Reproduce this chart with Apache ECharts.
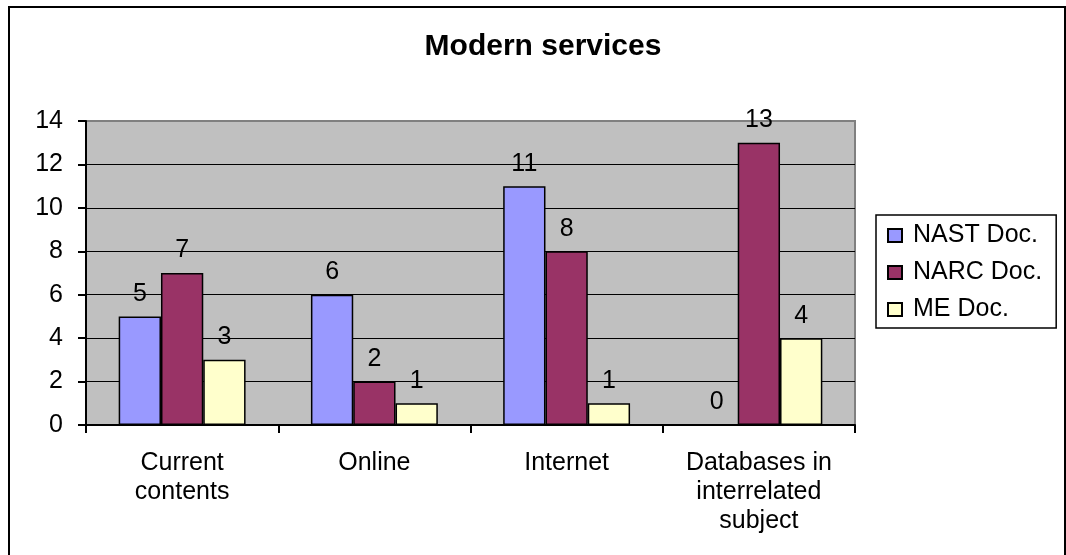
<!DOCTYPE html>
<html>
<head>
<meta charset="utf-8">
<script src="https://cdn.jsdelivr.net/npm/echarts@6/dist/echarts.min.js"></script>
<style>
  html, body { margin: 0; padding: 0; background: #fff; }
  #chart { width: 1066px; height: 555px; }
</style>
</head>
<body>
<div id="chart"></div>
<script>
// data
var categories = ["Current\ncontents", "Online", "Internet", "Databases in\ninterrelated\nsubject"];
var seriesNames = ["NAST Doc.", "NARC Doc.", "ME Doc."];
var nastValues = [5, 6, 11, 0];
var narcValues = [7, 2, 8, 13];
var meValues = [3, 1, 1, 4];
var yTicks = [0, 2, 4, 6, 8, 10, 12, 14];

var barColors = ["#9999FF", "#993366", "#FFFFCC"];
var font = "'Liberation Sans', Arial, sans-serif";

function barSeries(name, data, color) {
  return {
    name: name,
    type: "bar",
    data: data,
    barGap: "0%",
    barCategoryGap: "34%",
    itemStyle: { color: color, borderColor: "#000", borderWidth: 1.5 },
    label: {
      show: true,
      position: "top",
      distance: 10,
      color: "#000",
      fontSize: 25,
      fontFamily: font,
    },
    emphasis: { disabled: true },
  };
}

var myChart = echarts.init(document.getElementById("chart"));
myChart.setOption({
  animation: false,
  textStyle: { fontFamily: font, color: "#000" },
  title: {
    text: "Modern services",
    left: 538,
    top: 27,
    textAlign: "center",
    textStyle: { fontSize: 30, fontWeight: "bold", color: "#000", fontFamily: font },
  },
  graphic: [
    {
      type: "rect",
      shape: { x: 9, y: 7, width: 1056, height: 570 },
      style: { fill: "none", stroke: "#000", lineWidth: 2 },
      silent: true,
      z: -1,
    },
  ],
  legend: {
    orient: "vertical",
    left: 876,
    top: 215,
    padding: [8, 14, 6, 11],
    itemGap: 12,
    itemWidth: 14,
    itemHeight: 13,
    icon: "rect",
    borderColor: "#000",
    borderWidth: 1.5,
    backgroundColor: "#fff",
    data: seriesNames,
    textStyle: {
      fontSize: 25,
      lineHeight: 25,
      color: "#000",
      fontFamily: font,
      padding: [0, 0, 0, 6],
    },
  },
  grid: {
    left: 86,
    right: 211,
    top: 121,
    bottom: 130,
    show: true,
    backgroundColor: "#C0C0C0",
    borderColor: "#808080",
    borderWidth: 2,
  },
  xAxis: {
    type: "category",
    data: categories,
    axisLine: { lineStyle: { color: "#000", width: 2 } },
    axisTick: { show: true, length: 8, lineStyle: { color: "#000", width: 2 } },
    axisLabel: {
      fontSize: 25,
      lineHeight: 29,
      color: "#000",
      margin: 24,
      fontFamily: font,
      interval: 0,
      align: "center",
    },
  },
  yAxis: {
    type: "value",
    min: yTicks[0],
    max: yTicks[yTicks.length - 1],
    interval: 2,
    axisLine: { show: true, lineStyle: { color: "#000", width: 2 } },
    axisTick: { show: true, length: 8, lineStyle: { color: "#000", width: 2 } },
    axisLabel: { fontSize: 25, color: "#000", margin: 23, fontFamily: font },
    splitLine: { show: true, showMaxLine: false, lineStyle: { color: "#000", width: 1.2 } },
  },
  series: [
    barSeries(seriesNames[0], nastValues, barColors[0]),
    barSeries(seriesNames[1], narcValues, barColors[1]),
    barSeries(seriesNames[2], meValues, barColors[2]),
  ],
});
</script>
</body>
</html>
